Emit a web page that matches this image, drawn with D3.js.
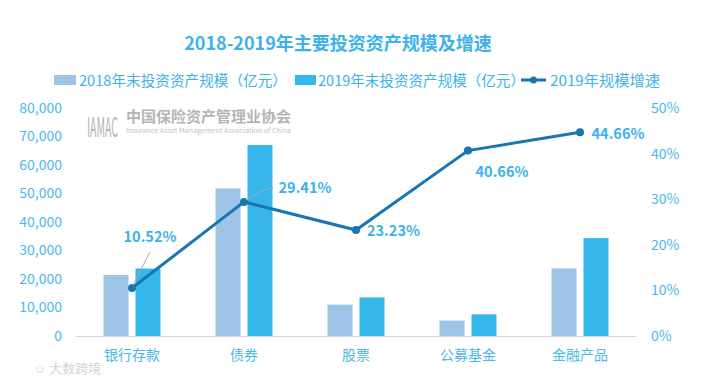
<!DOCTYPE html>
<html><head><meta charset="utf-8">
<script src="https://cdn.jsdelivr.net/npm/d3@7/dist/d3.min.js"></script>
<style>
body{margin:0;background:#fff;}
text{font-family:"Noto Sans CJK SC","Noto Sans",sans-serif;}
</style></head>
<body><svg id="c" width="703" height="379"></svg>
<script>
const categories = ["银行存款","债券","股票","公募基金","金融产品"];
const values2018 = [21400, 51800, 11000, 5400, 23750];
const values2019 = [23650, 67000, 13550, 7600, 34350];
const growth2019 = [10.52, 29.41, 23.23, 40.66, 44.66];
const leftTicks = [0,10000,20000,30000,40000,50000,60000,70000,80000];
const rightTicks = [0,10,20,30,40,50];
const seriesNames = ["2018年末投资资产规模（亿元）","2019年末投资资产规模（亿元）","2019年规模增速"];
const title = "2018-2019年主要投资资产规模及增速";

const C18="#9dc3e6", C19="#36b6ea", CL="#1877b1", CT="#3db2e9";
const svg=d3.select("#c");
const m={l:76,r:636,t:108,b:336};
const x=d3.scaleBand().domain(categories).range([m.l,m.r]);
const yL=d3.scaleLinear().domain([0,80000]).range([m.b,m.t]);
const yR=d3.scaleLinear().domain([0,50]).range([m.b,m.t]);

// title
svg.append("text").attr("x",338).attr("y",50).attr("text-anchor","middle")
  .attr("font-size",18).attr("font-weight","bold").attr("fill",CT).text(title);

// watermark
const wm=svg.append("g").attr("fill","#b5b5b5");
wm.append("text").attr("transform","translate(87,137) scale(1,2.4)").attr("font-size",11.5).attr("font-family","DejaVu Sans Condensed")
  .attr("textLength",31).attr("lengthAdjust","spacingAndGlyphs").text("IAMAC");
wm.append("text").attr("x",126).attr("y",122).attr("font-size",14.5).attr("font-weight","bold")
  .attr("textLength",165).attr("lengthAdjust","spacingAndGlyphs").text("中国保险资产管理业协会");
wm.append("text").attr("x",126).attr("y",133).attr("font-size",6).attr("fill","#c3c3c3")
  .attr("textLength",165).attr("lengthAdjust","spacingAndGlyphs").text("Insurance Asset Management Association of China");
svg.append("text").attr("x",33).attr("y",373).attr("font-size",13).attr("fill","#d4d4d4").text("☺ 大数跨境");

// legend
const lg=svg.append("g").attr("font-size",14.5).attr("fill",CT);
lg.append("rect").attr("x",54).attr("y",75).attr("width",22).attr("height",10).attr("fill",C18);
lg.append("text").attr("x",79).attr("y",85.5).attr("textLength",208).attr("lengthAdjust","spacingAndGlyphs").text(seriesNames[0]);
lg.append("rect").attr("x",295).attr("y",75).attr("width",21).attr("height",10).attr("fill",C19);
lg.append("text").attr("x",318).attr("y",85.5).attr("textLength",207).attr("lengthAdjust","spacingAndGlyphs").text(seriesNames[1]);
lg.append("line").attr("x1",521).attr("x2",546).attr("y1",80).attr("y2",80).attr("stroke",CL).attr("stroke-width",3);
lg.append("circle").attr("cx",533.5).attr("cy",80).attr("r",3.5).attr("fill",CL);
lg.append("text").attr("x",550).attr("y",85.5).attr("textLength",110).attr("lengthAdjust","spacingAndGlyphs").text(seriesNames[2]);

// axes
const axL=svg.append("g").attr("transform",`translate(${m.l-14},0)`)
  .call(d3.axisLeft(yL).tickValues(leftTicks).tickFormat(d3.format(",")).tickSize(0).tickPadding(0));
const axR=svg.append("g").attr("transform",`translate(${m.r+15},0)`)
  .call(d3.axisRight(yR).tickValues(rightTicks).tickFormat(d=>d+"%").tickSize(0).tickPadding(0));
[axL,axR].forEach(a=>{a.select(".domain").remove();
  a.selectAll("text").attr("fill","#4ab8ea").attr("font-size",14).attr("font-family","Open Sans, Noto Sans, sans-serif");});

// bars
const bw=25, off=16;
const g=svg.append("g");
g.selectAll(".b18").data(categories).join("rect").attr("fill",C18)
  .attr("x",(d)=>x(d)+x.bandwidth()/2-off-bw/2).attr("width",bw)
  .attr("y",(d,i)=>yL(values2018[i])).attr("height",(d,i)=>yL(0)-yL(values2018[i]));
g.selectAll(".b19").data(categories).join("rect").attr("fill",C19)
  .attr("x",(d)=>x(d)+x.bandwidth()/2+off-bw/2).attr("width",bw)
  .attr("y",(d,i)=>yL(values2019[i])).attr("height",(d,i)=>yL(0)-yL(values2019[i]));

// baseline
svg.append("line").attr("x1",m.l).attr("x2",m.r).attr("y1",m.b+0.5).attr("y2",m.b+0.5).attr("stroke","#d9d9d9");

// category axis
const axB=svg.append("g").attr("transform",`translate(0,${m.b})`)
  .call(d3.axisBottom(x).tickSize(0).tickPadding(14));
axB.select(".domain").remove();
axB.selectAll("text").attr("fill","#4ab8ea").attr("font-size",14).attr("font-family","Noto Sans CJK SC");

// line
const cx=d=>x(d)+x.bandwidth()/2;
const pts=categories.map((d,i)=>[cx(d),yR(growth2019[i])]);
svg.append("path").attr("d",d3.line()(pts)).attr("fill","none").attr("stroke",CL).attr("stroke-width",3);
svg.selectAll(".pt").data(pts).join("circle").attr("cx",d=>d[0]).attr("cy",d=>d[1]).attr("r",4).attr("fill",CL);

// leader lines
svg.append("line").attr("x1",pts[0][0]+1).attr("y1",pts[0][1]-3).attr("x2",150).attr("y2",252).attr("stroke","#aaa").attr("stroke-width",1);
svg.append("polyline").attr("points",`${pts[1][0]+2},${pts[1][1]-2} 268,188 273,188`).attr("fill","none").attr("stroke","#aaa").attr("stroke-width",1);

// labels
const lblPos=[[150,242,"middle"],[305,193,"middle"],[367,236,"start"],[502,177,"middle"],[618,139,"middle"]];
svg.selectAll(".lbl").data(growth2019).join("text")
  .attr("x",(d,i)=>lblPos[i][0]).attr("y",(d,i)=>lblPos[i][1]).attr("text-anchor",(d,i)=>lblPos[i][2])
  .attr("font-size",14.5).attr("font-weight","bold").attr("fill",CT)
  .attr("font-family","Open Sans, Noto Sans, sans-serif").text(d=>d.toFixed(2)+"%");
</script></body></html>
